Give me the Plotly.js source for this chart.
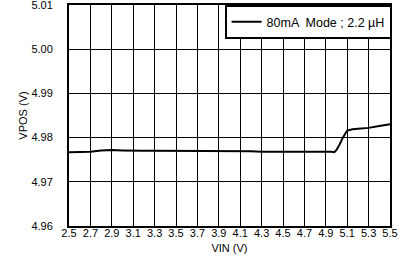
<!DOCTYPE html>
<html><head><meta charset="utf-8">
<script src="https://cdn.plot.ly/plotly-3.0.1.min.js"></script>
<style>html,body{margin:0;padding:0;background:#fff}#c{width:407px;height:267px}</style>
</head><body><div id="c"></div>
<script>
const vin = [2.5, 2.6, 2.7, 2.8, 2.9, 3.0, 3.1, 3.2, 3.3, 3.4, 3.5, 3.6, 3.7, 3.8, 3.9, 4.0, 4.1, 4.2, 4.3, 4.4, 4.5, 4.6, 4.7, 4.8, 4.9, 4.95, 4.98, 5.0, 5.03, 5.06, 5.1, 5.15, 5.2, 5.3, 5.4, 5.5];
const vpos = [4.9767, 4.9768, 4.9768, 4.9771, 4.9772, 4.9771, 4.9770, 4.9770, 4.9770, 4.9770, 4.9770, 4.9770, 4.9770, 4.9769, 4.9769, 4.9769, 4.9769, 4.9769, 4.9768, 4.9768, 4.9768, 4.9768, 4.9769, 4.9769, 4.9769, 4.9768, 4.9767, 4.9772, 4.9785, 4.9800, 4.9816, 4.9819, 4.9820, 4.9822, 4.9826, 4.9830];
const seriesName = "80mA  Mode ; 2.2 µH";
const xTicks = [2.5, 2.7, 2.9, 3.1, 3.3, 3.5, 3.7, 3.9, 4.1, 4.3, 4.5, 4.7, 4.9, 5.1, 5.3, 5.5];
const yTicks = [4.96, 4.97, 4.98, 4.99, 5.00, 5.01];

const font = {family: "Liberation Sans, Arial, sans-serif", size: 11, color: "#000"};
Plotly.newPlot("c", [{
  x: vin, y: vpos, type: "scatter", mode: "lines", name: seriesName,
  line: {color: "#000", width: 2}
}], {
  width: 407, height: 267,
  margin: {l: 69, r: 17, t: 5, b: 41},
  paper_bgcolor: "#fff", plot_bgcolor: "#fff",
  font: font,
  showlegend: true,
  legend: {x: 1.005, xanchor: "right", y: 1.0, yanchor: "top", bgcolor: "#fff", bordercolor: "#000", borderwidth: 2,
           font: {family: font.family, size: 12.5, color: "#000"}},
  xaxis: {
    range: [2.5, 5.5], tickvals: xTicks, ticktext: xTicks.map(v => v.toFixed(1)),
    showgrid: true, gridcolor: "#000", gridwidth: 1,
    showline: true, linecolor: "#000", linewidth: 2, mirror: true,
    ticks: "", zeroline: false, ticklabelstandoff: -4,
    title: {text: "VIN (V)", font: font, standoff: 6}
  },
  yaxis: {
    range: [4.96, 5.01], tickvals: yTicks, ticktext: yTicks.map(v => v.toFixed(2)),
    showgrid: true, gridcolor: "#000", gridwidth: 1,
    showline: true, linecolor: "#000", linewidth: 2, mirror: true,
    ticks: "", zeroline: false, ticklabelstandoff: 12, ticklabeloverflow: "allow",
    title: {text: "VPOS (V)", font: font, standoff: 2}
  }
}, {displayModeBar: false, staticPlot: true});
</script></body></html>
